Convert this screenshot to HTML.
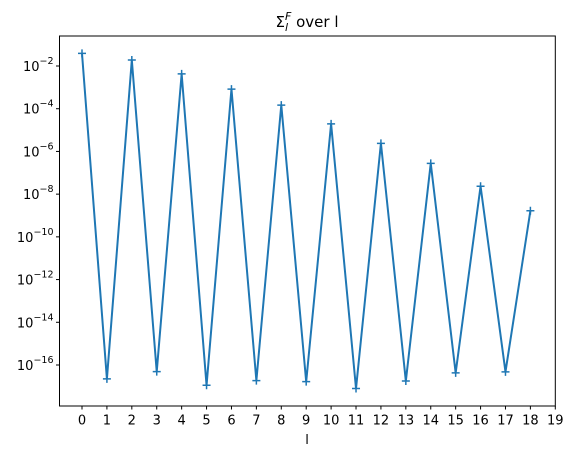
<!DOCTYPE html>
<html><head><meta charset="utf-8"><style>
body{margin:0;background:#fff;}
svg text{font-family:"DejaVu Sans","Liberation Sans",sans-serif;fill:#000;}
</style></head><body>
<svg id="chart" width="574" height="459" xmlns="http://www.w3.org/2000/svg">
<text x="307" y="27" font-size="15" text-anchor="middle">Σ<tspan font-size="11" dy="4" font-style="italic">l</tspan><tspan font-size="11" dy="-11" dx="-3" font-style="italic">F</tspan><tspan dy="7"> over l</tspan></text>
<g id="ticks"></g>
<path id="line" fill="none" stroke="#1f77b4" stroke-width="2"/>
<g id="marks"></g>
<rect x="59.5" y="36" width="495.8" height="370" fill="none" stroke="#000" stroke-width="1"/>
<text x="307" y="444" font-size="13" text-anchor="middle">l</text>
</svg>
<script>
const categories=[0,1,2,3,4,5,6,7,8,9,10,11,12,13,14,15,16,17,18];
const exponents=[-1.41,-16.65,-1.72,-16.31,-2.37,-16.95,-3.08,-16.73,-3.83,-16.78,-4.71,-17.1,-5.62,-16.75,-6.56,-16.37,-7.63,-16.32,-8.78];
const xTicks=[0,1,2,3,4,5,6,7,8,9,10,11,12,13,14,15,16,17,18,19];
const yTickExps=[-2,-4,-6,-8,-10,-12,-14,-16];
const X0=59.5,X1=555.3,Y0=36,Y1=406;
const eMin=-17.92,eMax=-0.595;
function xs(v){return 82+(v)*(555.3-82)/19;}
function ys(e){return Y1-(e-eMin)/(eMax-eMin)*(Y1-Y0);}
const NS='http://www.w3.org/2000/svg';
const tg=document.getElementById('ticks');
function mk(t,a){const el=document.createElementNS(NS,t);for(const k in a)el.setAttribute(k,a[k]);return el;}
xTicks.forEach(v=>{
 const l=mk('line',{x1:xs(v),x2:xs(v),y1:Y1,y2:Y1+3.5,stroke:'#000'});
 
 
 tg.appendChild(l);
 const t=mk('text',{x:xs(v),y:Y1+18.5,'font-size':'13','text-anchor':'middle'});
 
 
 t.textContent=v;tg.appendChild(t);
});
yTickExps.forEach(e=>{
 const y=ys(e);
 const l=mk('line',{x1:X0-3.5,x2:X0,y1:y,y2:y,stroke:'#000'});
 
 
 tg.appendChild(l);
 const t=mk('text',{x:X0-6,y:y+5,'font-size':'13','text-anchor':'end'});
 
 
 t.innerHTML='10<tspan font-size="9.5" dy="-7">−'+(-e)+'</tspan>';
 tg.appendChild(t);
});
let d='';
categories.forEach((c,i)=>{d+=(i?'L':'M')+xs(c)+','+ys(exponents[i]);});
document.getElementById('line').setAttribute('d',d);
const mg=document.getElementById('marks');
categories.forEach((c,i)=>{
 const x=xs(c),y=ys(exponents[i]);
 const p=mk('path',{d:`M${x-4},${y}H${x+4}M${x},${y-4}V${y+4}`,stroke:'#1f77b4','stroke-width':'1.5'});
 
 
 mg.appendChild(p);
});
</script>
</body></html>
